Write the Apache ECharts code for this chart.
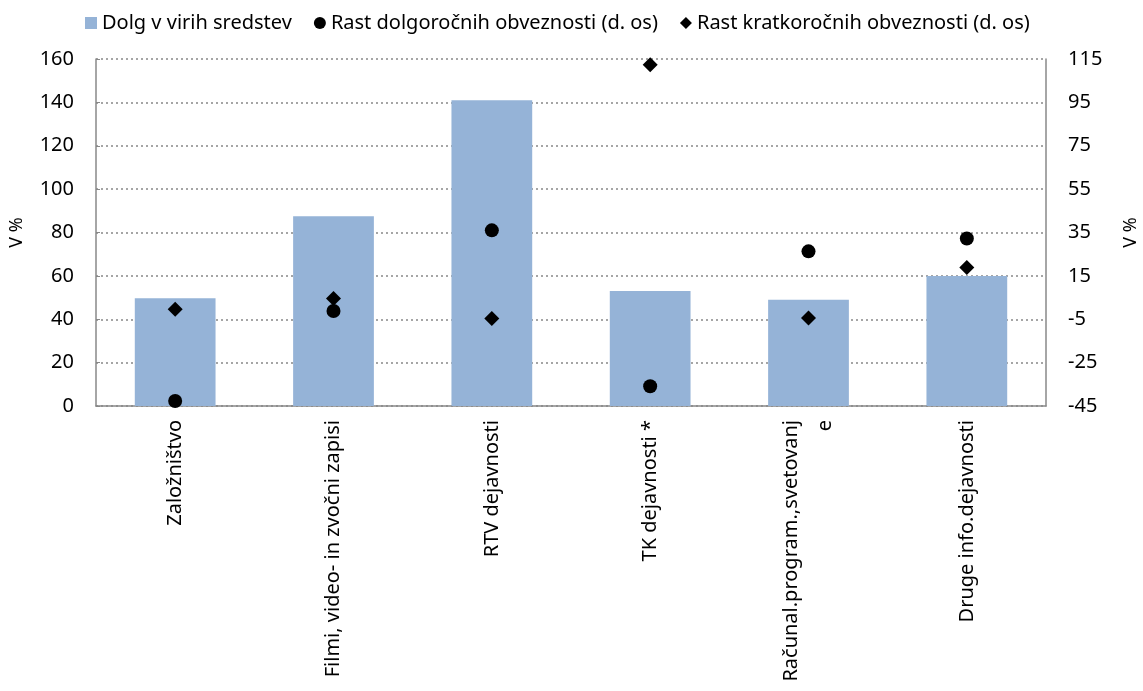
<!DOCTYPE html>
<html>
<head>
    <meta charset="utf-8">
    <script type="text/javascript" src="https://cdn.jsdelivr.net/npm/echarts@6/dist/echarts.min.js"></script>
    <title>Dolg v virih sredstev</title>
    <style>
        html, body { margin: 0; padding: 0; background: #fff; }
    </style>
</head>
<body>
    <div id="container" style="width:1143px;height:691px;"></div>
    <script type="text/javascript">
    // kategorije in podatki
    var categories = ['Založništvo', 'Filmi, video- in zvočni zapisi', 'RTV dejavnosti', 'TK dejavnosti *', 'Računal.program.,svetovanj\ne', 'Druge info.dejavnosti'];
    var dolg = [49.7, 87.5, 141, 53, 49, 60];           // levi y
    var rastDolgorocnih = [-42.7, -1.2, 36, -35.9, 26.3, 32.2];   // desni y
    var rastKratkorocnih = [-0.4, 4.6, -4.6, 112.4, -4.4, 18.9];  // desni y

    var font = 'Noto Sans';
    var myChart = echarts.init(document.getElementById('container'));

    var option = {
        animation: false,
        textStyle: { fontFamily: font },
        legend: {
            top: 8,
            left: 80,
            itemGap: 22,
            itemWidth: 12,
            itemHeight: 12,
            textStyle: { fontSize: 20, color: '#000', fontFamily: font },
            data: [
                { name: 'Dolg v virih sredstev', icon: 'rect' },
                { name: 'Rast dolgoročnih obveznosti (d. os)', icon: 'circle' },
                { name: 'Rast kratkoročnih obveznosti (d. os)', icon: 'diamond' }
            ]
        },
        grid: { left: 96, right: 97, top: 59, bottom: 285, containLabel: false, outerBoundsMode: 'none' },
        xAxis: {
            type: 'category',
            data: categories,
            axisLine: { lineStyle: { color: '#888', width: 1.5 } },
            axisTick: { show: false },
            axisLabel: {
                rotate: 90,
                interval: 0,
                fontSize: 20,
                color: '#000',
                margin: 14,
                lineHeight: 34
            }
        },
        yAxis: [{
            type: 'value',
            min: 0, max: 160, interval: 20,
            name: 'V %',
            nameLocation: 'middle',
            nameGap: 70,
            nameRotate: 90,
            nameTextStyle: { fontSize: 18, color: '#000' },
            axisLine: { show: true, lineStyle: { color: '#888', width: 1.5 } },
            axisTick: { show: true, inside: true, length: 4, lineStyle: { color: '#888' } },
            axisLabel: { fontSize: 20, color: '#000', margin: 22 },
            splitLine: { show: true, lineStyle: { color: '#888', type: [2, 3], width: 1.5 } }
        }, {
            type: 'value',
            min: -45, max: 115, interval: 20,
            name: 'V %',
            nameLocation: 'middle',
            nameGap: 76,
            nameRotate: 90,
            nameTextStyle: { fontSize: 18, color: '#000' },
            axisLine: { show: true, lineStyle: { color: '#888', width: 1.5 } },
            axisTick: { show: false },
            axisLabel: { fontSize: 20, color: '#000', margin: 22 },
            splitLine: { show: false }
        }],
        series: [{
            name: 'Dolg v virih sredstev',
            type: 'bar',
            data: dolg,
            yAxisIndex: 0,
            barWidth: '51%',
            itemStyle: { color: '#95B3D7' }
        }, {
            name: 'Rast dolgoročnih obveznosti (d. os)',
            type: 'scatter',
            data: rastDolgorocnih,
            yAxisIndex: 1,
            symbol: 'circle',
            symbolSize: 14,
            itemStyle: { color: '#000', opacity: 1 }
        }, {
            name: 'Rast kratkoročnih obveznosti (d. os)',
            type: 'scatter',
            data: rastKratkorocnih,
            yAxisIndex: 1,
            symbol: 'diamond',
            symbolSize: [15, 15],
            itemStyle: { color: '#000', opacity: 1 }
        }]
    };

    myChart.setOption(option);
    </script>
</body>
</html>
